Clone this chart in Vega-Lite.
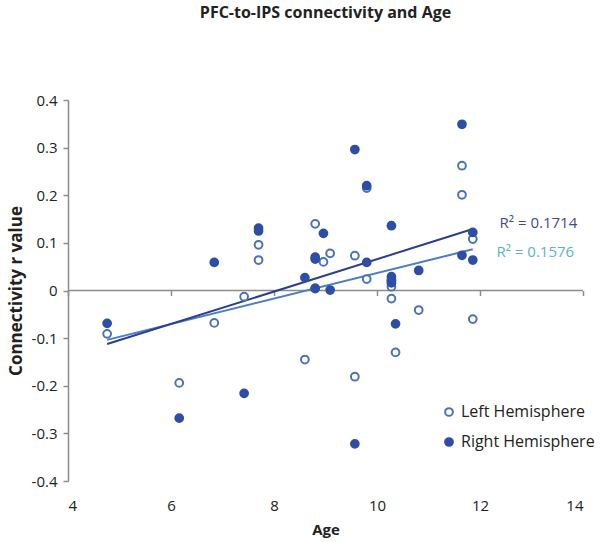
{
  "$schema": "https://vega.github.io/schema/vega-lite/v6.json",
  "autosize": {"type": "none"},
  "width": 515,
  "height": 381,
  "padding": {"left": 68, "top": 100, "right": 17, "bottom": 61},
  "background": "white",
  "title": {
    "text": "PFC-to-IPS connectivity and Age",
    "font": "Open Sans",
    "fontSize": 16,
    "fontWeight": "bold",
    "color": "#222222",
    "offset": 72,
    "anchor": "middle"
  },
  "config": {
    "view": {"stroke": null},
    "font": "Open Sans"
  },
  "datasets": {
    "pts": [
      {"age": 4.76, "r": -0.091, "series": "Left Hemisphere"},
      {"age": 6.16, "r": -0.194, "series": "Left Hemisphere"},
      {"age": 6.84, "r": -0.068, "series": "Left Hemisphere"},
      {"age": 7.42, "r": -0.013, "series": "Left Hemisphere"},
      {"age": 7.70, "r": 0.096, "series": "Left Hemisphere"},
      {"age": 7.70, "r": 0.064, "series": "Left Hemisphere"},
      {"age": 8.60, "r": -0.145, "series": "Left Hemisphere"},
      {"age": 8.80, "r": 0.140, "series": "Left Hemisphere"},
      {"age": 8.80, "r": 0.005, "series": "Left Hemisphere"},
      {"age": 8.96, "r": 0.060, "series": "Left Hemisphere"},
      {"age": 9.09, "r": 0.078, "series": "Left Hemisphere"},
      {"age": 9.57, "r": 0.073, "series": "Left Hemisphere"},
      {"age": 9.57, "r": -0.181, "series": "Left Hemisphere"},
      {"age": 9.80, "r": 0.024, "series": "Left Hemisphere"},
      {"age": 9.80, "r": 0.215, "series": "Left Hemisphere"},
      {"age": 10.28, "r": 0.008, "series": "Left Hemisphere"},
      {"age": 10.28, "r": 0.020, "series": "Left Hemisphere"},
      {"age": 10.28, "r": -0.017, "series": "Left Hemisphere"},
      {"age": 10.36, "r": -0.130, "series": "Left Hemisphere"},
      {"age": 10.81, "r": -0.041, "series": "Left Hemisphere"},
      {"age": 11.65, "r": 0.262, "series": "Left Hemisphere"},
      {"age": 11.65, "r": 0.201, "series": "Left Hemisphere"},
      {"age": 11.86, "r": 0.108, "series": "Left Hemisphere"},
      {"age": 11.86, "r": -0.060, "series": "Left Hemisphere"},
      {"age": 4.76, "r": -0.069, "series": "Right Hemisphere"},
      {"age": 6.16, "r": -0.268, "series": "Right Hemisphere"},
      {"age": 6.84, "r": 0.059, "series": "Right Hemisphere"},
      {"age": 7.42, "r": -0.216, "series": "Right Hemisphere"},
      {"age": 7.70, "r": 0.131, "series": "Right Hemisphere"},
      {"age": 7.70, "r": 0.125, "series": "Right Hemisphere"},
      {"age": 8.60, "r": 0.027, "series": "Right Hemisphere"},
      {"age": 8.80, "r": 0.070, "series": "Right Hemisphere"},
      {"age": 8.80, "r": 0.066, "series": "Right Hemisphere"},
      {"age": 8.80, "r": 0.004, "series": "Right Hemisphere"},
      {"age": 8.96, "r": 0.120, "series": "Right Hemisphere"},
      {"age": 9.09, "r": 0.001, "series": "Right Hemisphere"},
      {"age": 9.57, "r": 0.296, "series": "Right Hemisphere"},
      {"age": 9.57, "r": -0.322, "series": "Right Hemisphere"},
      {"age": 9.80, "r": 0.220, "series": "Right Hemisphere"},
      {"age": 9.80, "r": 0.059, "series": "Right Hemisphere"},
      {"age": 10.28, "r": 0.136, "series": "Right Hemisphere"},
      {"age": 10.28, "r": 0.029, "series": "Right Hemisphere"},
      {"age": 10.28, "r": 0.022, "series": "Right Hemisphere"},
      {"age": 10.28, "r": 0.016, "series": "Right Hemisphere"},
      {"age": 10.36, "r": -0.070, "series": "Right Hemisphere"},
      {"age": 10.81, "r": 0.042, "series": "Right Hemisphere"},
      {"age": 11.65, "r": 0.349, "series": "Right Hemisphere"},
      {"age": 11.65, "r": 0.074, "series": "Right Hemisphere"},
      {"age": 11.86, "r": 0.122, "series": "Right Hemisphere"},
      {"age": 11.86, "r": 0.064, "series": "Right Hemisphere"}
    ],
    "labels": [
      {"age": 12.38, "r": 0.142, "label": "R² = 0.1714", "series": "Right Hemisphere"},
      {"age": 12.32, "r": 0.081, "label": "R² = 0.1576", "series": "Left Hemisphere"}
    ],
    "zero": [{"r": 0}]
  },
  "layer": [
    {
      "data": {"name": "zero"},
      "mark": {"type": "rule", "color": "#8c8c8c", "strokeWidth": 1.5},
      "encoding": {
        "y": {"field": "r", "type": "quantitative", "scale": {"domain": [-0.4, 0.4]}}
      }
    },
    {
      "data": {"name": "pts"},
      "transform": [
        {"filter": "datum.series == 'Left Hemisphere'"},
        {"regression": "r", "on": "age"}
      ],
      "mark": {"type": "line", "strokeWidth": 2, "color": "#4a7fc4"},
      "encoding": {
        "x": {
          "field": "age",
          "type": "quantitative",
          "scale": {"domain": [4, 14]},
          "axis": {
            "orient": "bottom",
            "values": [4, 6, 8, 10, 12, 14],
            "offset": -190.5,
            "labels": false,
            "domain": false,
            "ticks": true,
            "tickColor": "#8c8c8c",
            "tickWidth": 1.5,
            "tickSize": 5,
            "grid": false,
            "title": null
          }
        },
        "y": {"field": "r", "type": "quantitative"}
      }
    },
    {
      "data": {"name": "pts"},
      "transform": [
        {"filter": "datum.series == 'Right Hemisphere'"},
        {"regression": "r", "on": "age"}
      ],
      "mark": {"type": "line", "strokeWidth": 2, "color": "#2c3d92"},
      "encoding": {
        "x": {"field": "age", "type": "quantitative", "axis": null},
        "y": {"field": "r", "type": "quantitative"}
      }
    },
    {
      "data": {"name": "pts"},
      "mark": {"type": "point", "shape": "circle", "size": 60, "strokeWidth": 2, "opacity": 1},
      "encoding": {
        "x": {
          "field": "age",
          "type": "quantitative",
          "scale": {"domain": [4, 14]},
          "axis": {
            "orient": "bottom",
            "values": [4, 6, 8, 10, 12, 14],
            "domain": false,
            "ticks": false,
            "grid": false,
            "labelPadding": 17,
            "labelFontSize": 15,
            "labelColor": "#222222",
            "title": "Age",
            "titleFontSize": 15,
            "titleFontWeight": "bold",
            "titleColor": "#222222",
            "titlePadding": 9
          }
        },
        "y": {
          "field": "r",
          "type": "quantitative",
          "scale": {"domain": [-0.4, 0.4]},
          "axis": {
            "values": [-0.4, -0.3, -0.2, -0.1, 0, 0.1, 0.2, 0.3, 0.4],
            "labelExpr": "toString(round(datum.value*10)/10)",
            "grid": false,
            "domainColor": "#8c8c8c",
            "domainWidth": 1.5,
            "tickColor": "#8c8c8c",
            "tickSize": 5,
            "tickWidth": 1.5,
            "labelPadding": 6,
            "labelFontSize": 15,
            "labelColor": "#222222",
            "title": "Connectivity r value",
            "titleFontSize": 17,
            "titleFontWeight": "bold",
            "titleColor": "#222222",
            "titlePadding": 6
          }
        },
        "fill": {
          "field": "series",
          "type": "nominal",
          "scale": {"domain": ["Left Hemisphere", "Right Hemisphere"], "range": ["#ffffff", "#2e4ea6"]},
          "legend": {
            "title": null,
            "orient": "none",
            "legendX": 373,
            "legendY": 304,
            "labelFontSize": 16,
            "labelColor": "#222222",
            "rowPadding": 14,
            "symbolSize": 60,
            "symbolStrokeWidth": 2
          }
        },
        "stroke": {
          "field": "series",
          "type": "nominal",
          "scale": {"domain": ["Left Hemisphere", "Right Hemisphere"], "range": ["#4a72b8", "#2e4ea6"]},
          "legend": {
            "title": null,
            "orient": "none",
            "legendX": 373,
            "legendY": 304,
            "labelFontSize": 16,
            "labelColor": "#222222",
            "rowPadding": 14,
            "symbolSize": 60,
            "symbolStrokeWidth": 2
          }
        }
      }
    },
    {
      "data": {"name": "labels"},
      "transform": [{"filter": "datum.series == 'Right Hemisphere'"}],
      "mark": {"type": "text", "align": "left", "baseline": "middle", "fontSize": 15, "color": "#3a4c96"},
      "encoding": {
        "x": {"field": "age", "type": "quantitative", "axis": null},
        "y": {"field": "r", "type": "quantitative"},
        "text": {"field": "label"}
      }
    },
    {
      "data": {"name": "labels"},
      "transform": [{"filter": "datum.series == 'Left Hemisphere'"}],
      "mark": {"type": "text", "align": "left", "baseline": "middle", "fontSize": 15, "color": "#5bb3c9"},
      "encoding": {
        "x": {"field": "age", "type": "quantitative", "axis": null},
        "y": {"field": "r", "type": "quantitative"},
        "text": {"field": "label"}
      }
    }
  ],
  "resolve": {"axis": {"x": "independent"}}
}
